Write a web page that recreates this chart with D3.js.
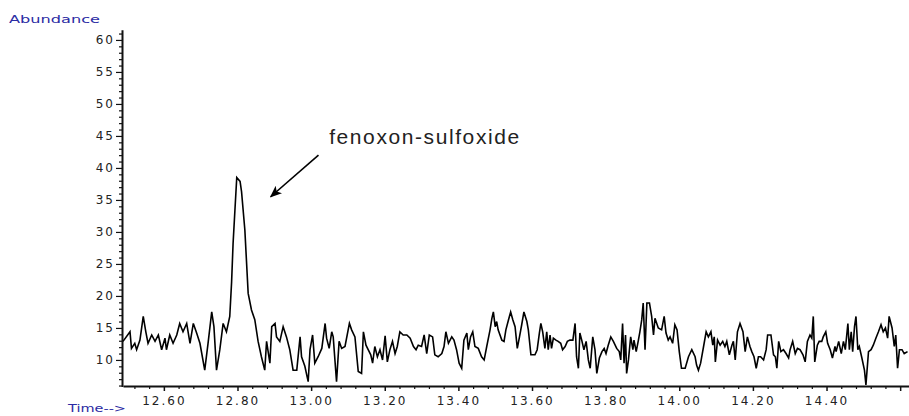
<!DOCTYPE html>
<html>
<head>
<meta charset="utf-8">
<script src="https://cdn.jsdelivr.net/npm/d3@7.9.0/dist/d3.min.js"></script>
<style>
  body { margin: 0; background: #fff; }
  svg { display: block; }
  .tick text { font-family: "DejaVu Sans", sans-serif; font-size: 12px; fill: #222; letter-spacing: 2px; }
</style>
</head>
<body>
<svg id="chart" width="909" height="416"></svg>
<script>
// retention times (min) and abundance
const times = [
  12.489,12.508,12.512,12.521,12.526,12.535,12.544,12.551,12.557,12.567,12.576,12.585,12.594,12.603,12.607,12.616,12.625,12.635,12.643,12.652,
  12.662,12.671,12.680,12.689,12.698,12.711,12.720,12.730,12.736,12.743,12.752,12.761,12.770,12.779,12.784,12.788,12.793,12.798,12.807,12.811,
  12.820,12.829,12.838,12.847,12.856,12.865,12.874,12.879,12.888,12.893,12.902,12.906,12.915,12.924,12.933,12.942,12.951,12.961,12.970,12.974,
  12.983,12.992,12.997,13.004,13.010,13.019,13.029,13.038,13.042,13.049,13.056,13.060,13.069,13.076,13.083,13.092,13.104,13.110,13.119,13.128,
  13.137,13.142,13.149,13.155,13.162,13.167,13.173,13.180,13.187,13.194,13.201,13.207,13.214,13.221,13.228,13.234,13.241,13.250,13.260,13.269,
  13.278,13.285,13.291,13.300,13.307,13.314,13.321,13.330,13.336,13.345,13.355,13.361,13.366,13.373,13.382,13.388,13.395,13.402,13.409,13.415,
  13.423,13.427,13.433,13.439,13.445,13.454,13.463,13.470,13.477,
  13.486,13.491,13.495,13.500,13.504,13.508,13.518,13.524,13.529,13.536,13.542,13.548,13.554,13.560,13.566,13.572,13.578,13.586,13.590,13.597,
  13.608,13.614,13.620,13.624,13.629,13.635,13.640,13.644,13.649,13.653,13.658,13.665,13.671,13.678,13.683,13.690,13.696,13.703,13.711,13.717,
  13.721,13.726,13.730,13.735,13.741,13.747,13.753,13.758,13.765,13.771,13.776,13.783,13.790,13.796,13.801,13.807,13.814,13.821,13.830,13.837,
  13.841,13.846,13.850,13.854,13.857,13.862,13.868,13.874,13.877,13.883,13.889,13.893,13.898,13.902,13.907,13.912,13.919,13.925,13.930,13.934,
  13.943,13.952,13.959,13.964,13.970,13.975,13.982,13.988,13.994,14.000,14.006,14.016,14.025,14.034,14.043,14.047,14.052,
  14.058,14.066,14.073,14.079,14.086,14.091,14.095,14.098,14.104,14.111,14.118,14.124,14.129,14.136,14.143,14.147,14.152,14.158,14.165,14.173,
  14.179,14.185,14.192,14.197,14.203,14.209,14.215,14.221,14.229,14.236,14.240,14.249,14.256,14.261,14.265,14.270,14.276,14.283,14.290,14.297,
  14.301,14.308,14.315,14.321,14.328,14.336,14.342,14.348,14.355,14.360,14.364,14.368,14.375,14.380,14.387,14.391,14.398,14.403,14.410,14.416,
  14.423,14.426,14.433,14.440,14.446,14.451,14.458,14.462,14.467,14.471,14.476,14.480,14.485,14.489,14.496,14.503,14.507,14.514,14.521,14.527,
  14.534,14.541,14.548,14.554,14.560,14.566,14.570,14.578,14.584,14.588,14.593,14.598,14.605,14.611,14.620
];
const abundance = [
  12.9,14.4,11.8,12.6,11.6,13.1,16.8,14.4,12.6,13.9,12.9,13.9,11.6,13.4,11.6,13.9,12.6,13.9,15.7,14.4,
  15.7,12.6,15.7,14.2,12.6,8.4,12.6,17.5,15.2,8.4,11.6,15.7,14.4,16.8,22.2,28.2,33.4,38.5,37.9,36.3,
  30.3,20.4,17.8,16.3,12.9,10.5,8.4,12.9,9.5,15.2,15.7,13.6,12.9,15.2,13.6,11.6,8.4,8.4,13.6,10.5,
  9.0,6.6,11.6,13.9,9.5,10.5,11.8,15.7,13.4,11.8,14.4,13.6,6.6,12.9,11.8,12.1,15.7,14.7,13.6,8.2,
  7.9,14.4,12.3,11.6,10.8,9.5,12.1,10.5,11.6,10.0,13.75,9.7,11.6,12.9,11.0,12.1,14.4,13.9,13.9,13.4,
  12.1,11.6,12.3,12.1,13.9,11.0,13.9,13.6,10.8,10.5,11.0,12.1,14.4,12.6,13.6,13.1,11.6,9.5,8.7,13.1,
  14.2,11.6,13.6,14.4,12.1,11.8,10.5,10.0,12.1,
  14.7,16.5,17.5,15.2,16.0,14.7,13.1,12.9,14.7,16.25,17.5,16.25,15.2,11.8,13.6,15.5,17.5,16.0,14.7,10.8,
  10.8,11.6,14.2,15.7,14.4,11.8,14.4,11.6,13.9,11.8,13.4,13.1,12.9,12.6,11.6,12.1,12.9,13.1,13.1,15.7,
  10.5,8.7,14.2,13.1,11.6,12.9,10.0,8.7,13.6,11.6,7.9,10.3,11.3,11.8,11.0,12.3,13.6,12.9,11.8,11.3,
  10.0,15.7,9.5,13.9,7.9,10.0,13.6,11.6,13.1,11.3,13.1,14.4,16.25,18.9,11.6,18.9,18.9,16.8,13.9,16.5,
  15.0,14.7,16.8,14.2,13.1,13.6,12.6,15.5,14.7,11.3,8.7,8.7,10.5,11.6,10.5,9.2,8.4,
  9.5,12.1,14.4,13.6,14.4,12.3,13.6,9.7,13.1,12.3,12.9,12.1,12.9,10.8,12.3,12.9,10.0,14.4,15.7,14.4,
  11.3,13.6,12.1,11.3,10.5,8.7,10.5,10.5,10.0,11.6,13.9,13.9,10.8,10.5,8.7,12.9,11.3,11.6,11.0,10.3,
  11.6,12.9,11.0,11.8,11.6,10.8,9.7,12.9,13.9,13.4,16.8,9.7,12.3,12.9,12.9,13.6,14.4,12.6,11.6,10.3,
  12.1,11.3,12.9,11.0,12.9,11.6,15.7,11.6,14.4,11.3,15.2,16.8,11.6,12.1,10.3,8.4,6.1,11.3,11.6,12.3,
  13.4,14.4,15.5,14.4,15.0,13.4,16.8,15.0,12.1,13.9,8.7,11.6,11.6,11.0,11.3
];

const yTickValues = [10, 15, 20, 25, 30, 35, 40, 45, 50, 55, 60];
const xTickValues = [12.6, 12.8, 13.0, 13.2, 13.4, 13.6, 13.8, 14.0, 14.2, 14.4, 14.6];
const xTickLabels = ["12.60", "12.80", "13.00", "13.20", "13.40", "13.60", "13.80", "14.00", "14.20", "14.40", ""];

const peakLabel = "fenoxon-sulfoxide";
const yTitle = "Abundance";
const xTitle = "Time-->";

const svg = d3.select('#chart');
const blue = '#2b2ba3';

let x = d3.scaleLinear().domain([12.489, 14.624]).range([123, 909]);
let y = d3.scaleLinear().domain([5.85, 61.6]).range([386.5, 29.7]);

// y axis: minor ticks every 1, labelled major ticks every 5
svg.append('g')
   .attr('transform', 'translate(122,0)')
   .call(d3.axisLeft(y).tickValues(d3.range(6, 62).filter(v => v % 5 !== 0)).tickSize(3).tickFormat(''))
   .call(g => g.select('.domain').remove())
   .selectAll('line').attr('stroke', '#111').attr('stroke-width', 1.2);

svg.append('g')
   .attr('transform', 'translate(122,0)')
   .call(d3.axisLeft(y).tickValues(yTickValues).tickSize(6).tickPadding(1).tickSizeOuter(0))
   .call(g => g.select('.domain').attr('stroke', '#111').attr('stroke-width', 2))
   .call(g => g.selectAll('line').attr('stroke', '#111').attr('stroke-width', 1.2));

// x axis: minor ticks every 0.04 min
svg.append('g')
   .attr('transform', 'translate(0,386)')
   .call(d3.axisBottom(x).tickValues(d3.range(12.52, 14.62, 0.04).filter(v => Math.abs(Math.round(v * 5) - v * 5) > 0.01)).tickSize(3).tickFormat(''))
   .call(g => g.select('.domain').remove())
   .selectAll('line').attr('stroke', '#111').attr('stroke-width', 1.2);

svg.append('g')
   .attr('transform', 'translate(0,386)')
   .call(d3.axisBottom(x).tickValues(xTickValues).tickSize(5).tickPadding(5).tickSizeOuter(0)
          .tickFormat((d, i) => xTickLabels[i]))
   .call(g => g.select('.domain').attr('stroke', '#111').attr('stroke-width', 2))
   .call(g => g.selectAll('line').attr('stroke', '#111').attr('stroke-width', 1.5));

// the trace
let line = d3.line()
  .x((d, i) => x(times[i]))
  .y(d => y(d));

svg.append('path')
   .datum(abundance.slice(0, times.length))
   .attr('d', line)
   .attr('fill', 'none')
   .attr('stroke', '#000')
   .attr('stroke-width', 1.6);

// axis titles
svg.append('text')
   .attr('x', 9).attr('y', 23)
   .attr('textLength', 91).attr('lengthAdjust', 'spacingAndGlyphs')
   .style('font', '11px "DejaVu Sans", sans-serif')
   .attr('fill', blue)
   .text(yTitle);

svg.append('text')
   .attr('x', 68).attr('y', 412)
   .attr('textLength', 58).attr('lengthAdjust', 'spacingAndGlyphs')
   .style('font', '11px "DejaVu Sans", sans-serif')
   .attr('fill', blue)
   .text(xTitle);

// peak annotation
svg.append('defs').append('marker')
   .attr('id', 'head')
   .attr('viewBox', '0 0 12 10')
   .attr('refX', 11).attr('refY', 5)
   .attr('markerWidth', 12).attr('markerHeight', 10)
   .attr('markerUnits', 'userSpaceOnUse')
   .attr('orient', 'auto')
   .append('path')
   .attr('d', 'M0,0 L12,5 L0,10 L3,5 Z')
   .attr('fill', '#000');

svg.append('line')
   .attr('x1', x(13.02)).attr('y1', y(42))
   .attr('x2', x(12.89)).attr('y2', y(35.5))
   .attr('stroke', '#000')
   .attr('stroke-width', 1.6)
   .attr('marker-end', 'url(#head)');

svg.append('text')
   .attr('x', x(13.049)).attr('y', y(43.75))
   .attr('textLength', 190).attr('lengthAdjust', 'spacing')
   .style('font', '21px "Liberation Sans", Arial, sans-serif')
   .attr('fill', '#222')
   .text(peakLabel);
</script>
</body>
</html>
